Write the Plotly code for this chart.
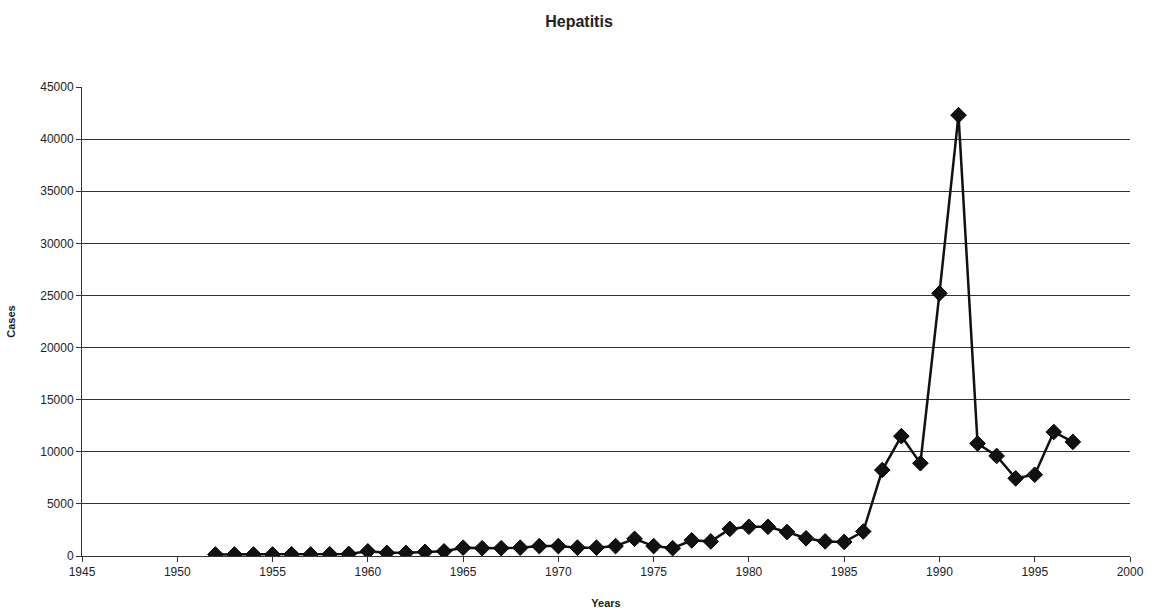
import plotly.graph_objects as go

# Reported hepatitis cases per year
years = list(range(1952, 1998))
cases = [
    150, 150, 150, 150, 170, 150, 170, 200, 450, 300,   # 1952-1961
    300, 400, 450, 800, 750, 750, 800, 950, 950, 800,   # 1962-1971
    800, 950, 1650, 950, 750, 1500, 1400, 2600, 2800, 2800,  # 1972-1981
    2300, 1700, 1400, 1350, 2350, 8250, 11500, 8900, 25200, 42300,  # 1982-1991
    10800, 9600, 7450, 7800, 11900, 10950,  # 1992-1997
]

x_ticks = list(range(1945, 2001, 5))
y_ticks = list(range(0, 45001, 5000))
y_tick_labels = [str(v) for v in y_ticks]

font_family = "Liberation Sans, Arial, sans-serif"

fig = go.Figure(
    go.Scatter(
        x=years,
        y=cases,
        mode="lines+markers",
        line=dict(color="#111111", width=2.5),
        marker=dict(symbol="diamond", size=12, color="#111111",
                    line=dict(color="#000000", width=1)),
        showlegend=False,
    )
)

fig.update_layout(
    width=1158,
    height=613,
    paper_bgcolor="white",
    plot_bgcolor="white",
    margin=dict(l=82, r=28, t=87, b=57),
    font=dict(family=font_family, color="#222222", size=12),
    title=dict(
        text="<b>Hepatitis</b>",
        x=0.5,
        xanchor="center",
        y=0.965,
        yanchor="middle",
        font=dict(size=16, color="#222222"),
    ),
)

fig.update_xaxes(
    range=[1945, 2000],
    tickvals=x_ticks,
    ticks="outside",
    ticklen=5,
    tickcolor="#333333",
    showline=True,
    linecolor="#333333",
    linewidth=1,
    showgrid=False,
    zeroline=False,
    automargin=False,
    tickfont=dict(size=12, color="#222222"),
    title=dict(text="<b>Years</b>", font=dict(size=11, color="#222222"), standoff=20),
)

fig.update_yaxes(
    range=[0, 45000],
    tickvals=y_ticks,
    ticktext=y_tick_labels,
    ticks="outside",
    ticklen=5,
    tickcolor="#333333",
    showline=True,
    linecolor="#333333",
    linewidth=1,
    showgrid=True,
    gridcolor="#333333",
    gridwidth=1,
    zeroline=False,
    automargin=False,
    tickfont=dict(size=12, color="#222222"),
    title=dict(text="<b>Cases</b>", font=dict(size=11, color="#222222"), standoff=22),
)

fig.write_html("out.html")
